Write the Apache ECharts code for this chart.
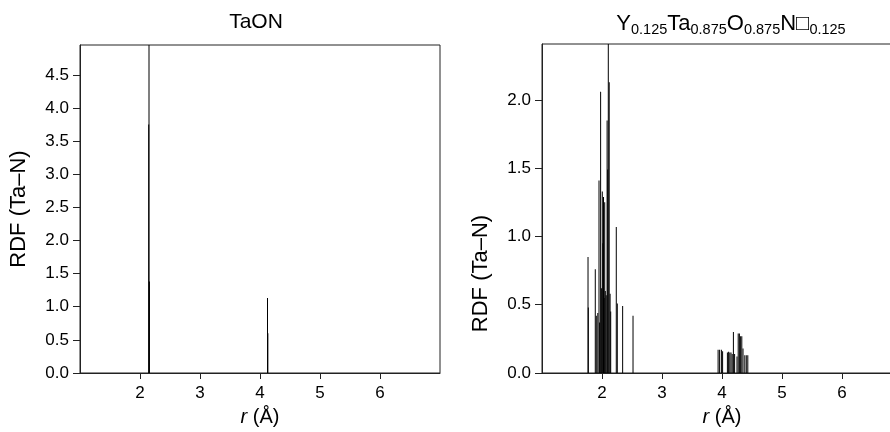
<!DOCTYPE html>
<html><head><meta charset="utf-8">
<script src="https://cdn.jsdelivr.net/npm/echarts@6/dist/echarts.min.js"></script>
<style>html,body{margin:0;padding:0;background:#fff;overflow:hidden;width:890px;height:432px}#c{width:904px;height:432px}</style>
</head><body><div id="c"></div>
<script>
// ---- data ----
const xTicks = [2, 3, 4, 5, 6];
const taonYTicks = [0, 0.5, 1, 1.5, 2, 2.5, 3, 3.5, 4, 4.5];
const ytaYTicks = [0, 0.5, 1, 1.5, 2];

// TaON spikes (r in Å, RDF height)
const taonR = [2.150, 2.145, 2.157, 4.125, 4.131];
const taonH = [5.50, 3.75, 1.38, 1.13, 0.60];

// Y0.125Ta0.875O0.875N□0.125 spikes
const ytaR = [1.767, 1.772, 1.888, 1.905, 1.930, 1.950, 1.960, 1.977, 1.990, 2.005,
              2.015, 2.025, 2.035, 2.045, 2.055, 2.070, 2.085, 2.095, 2.105, 2.120,
              2.135, 2.145, 2.238, 2.255, 2.344, 2.517,
              3.935, 3.960, 3.990, 4.010, 4.090, 4.110, 4.130, 4.150, 4.170, 4.190,
              4.210, 4.250, 4.270, 4.290, 4.310, 4.330, 4.350, 4.380, 4.405, 4.430];
const ytaH = [0.85, 0.48, 0.76, 0.42, 0.44, 1.41, 0.37, 2.06, 0.62, 1.33,
              0.95, 1.29, 0.55, 1.25, 0.60, 0.57, 1.85, 1.49, 2.60, 2.13,
              0.58, 0.45, 1.07, 0.51, 0.49, 0.42,
              0.17, 0.17, 0.17, 0.16, 0.15, 0.155, 0.15, 0.15, 0.14, 0.30,
              0.14, 0.12, 0.29, 0.29, 0.27, 0.27, 0.18, 0.13, 0.13, 0.13];

const FONT = "'Liberation Sans', Arial, Helvetica, sans-serif";
const AX = '#222';

function pairs(r, h) { return r.map((v, i) => [v, h[i]]); }

function xAxis(gi) {
  return {
    type: 'value', gridIndex: gi, min: 1, max: 7,
    name: '{i|r} (Å)', nameLocation: 'middle', nameGap: 34,
    nameTextStyle: { fontFamily: FONT, fontSize: 20, color: '#000',
      rich: { i: { fontFamily: FONT, fontSize: 20, fontStyle: 'italic', color: '#000' } } },
    axisLine: { show: true, lineStyle: { color: AX, width: 1 } },
    axisTick: { show: true, length: 6, customValues: xTicks, lineStyle: { color: AX } },
    axisLabel: { customValues: xTicks, margin: 12, fontFamily: FONT, fontSize: 17, color: '#000' },
    splitLine: { show: false }
  };
}
function yAxis(gi, max, ticks, pad) {
  return {
    type: 'value', gridIndex: gi, min: 0, max: max,
    name: 'RDF (Ta–N)', nameLocation: 'middle', nameGap: 50,
    nameTextStyle: { fontFamily: FONT, fontSize: 22, color: '#000', padding: pad },
    axisLine: { show: true, lineStyle: { color: AX, width: 1 } },
    axisTick: { show: true, length: 7, customValues: ticks, lineStyle: { color: AX } },
    axisLabel: { customValues: ticks, margin: 11, fontFamily: FONT, fontSize: 17, color: '#000',
      formatter: v => v.toFixed(1) },
    splitLine: { show: false }
  };
}

const chart = echarts.init(document.getElementById('c'), null, { renderer: 'canvas' });
chart.setOption({
  animation: false,
  backgroundColor: '#fff',
  grid: [
    { left: 80, top: 45, width: 360, height: 328, show: true, borderColor: AX, borderWidth: 1, backgroundColor: 'transparent' },
    { left: 542, top: 44, width: 360, height: 329, show: true, borderColor: AX, borderWidth: 1, backgroundColor: 'transparent' }
  ],
  xAxis: [xAxis(0), xAxis(1)],
  yAxis: [yAxis(0, 4.95, taonYTicks, [0, 0, 0, 0]), yAxis(1, 2.41, ytaYTicks, [0, 130, 0, 0])],
  series: [
    { type: 'bar', xAxisIndex: 0, yAxisIndex: 0, data: pairs(taonR, taonH), barWidth: 1,
      itemStyle: { color: '#000' }, clip: true },
    { type: 'bar', xAxisIndex: 1, yAxisIndex: 1, data: pairs(ytaR, ytaH), barWidth: 1,
      itemStyle: { color: '#000' }, clip: true }
  ],
  graphic: [
    { type: 'text', x: 256, y: 22, style: { text: 'TaON', align: 'center', verticalAlign: 'middle',
        font: '21px ' + FONT, fill: '#000' } },
    { type: 'text', x: 731, y: 24, style: {
        text: '{b|Y}{s|0.125}{b|Ta}{s|0.875}{b|O}{s|0.875}{b|N□}{s|0.125}',
        align: 'center', verticalAlign: 'middle', fill: '#000',
        rich: {
          b: { fontFamily: FONT, fontSize: 22, lineHeight: 26, verticalAlign: 'middle', fill: '#000' },
          s: { fontFamily: FONT, fontSize: 14.5, lineHeight: 26, verticalAlign: 'bottom', fill: '#000' }
        } } }
  ]
});
</script>
</body></html>
